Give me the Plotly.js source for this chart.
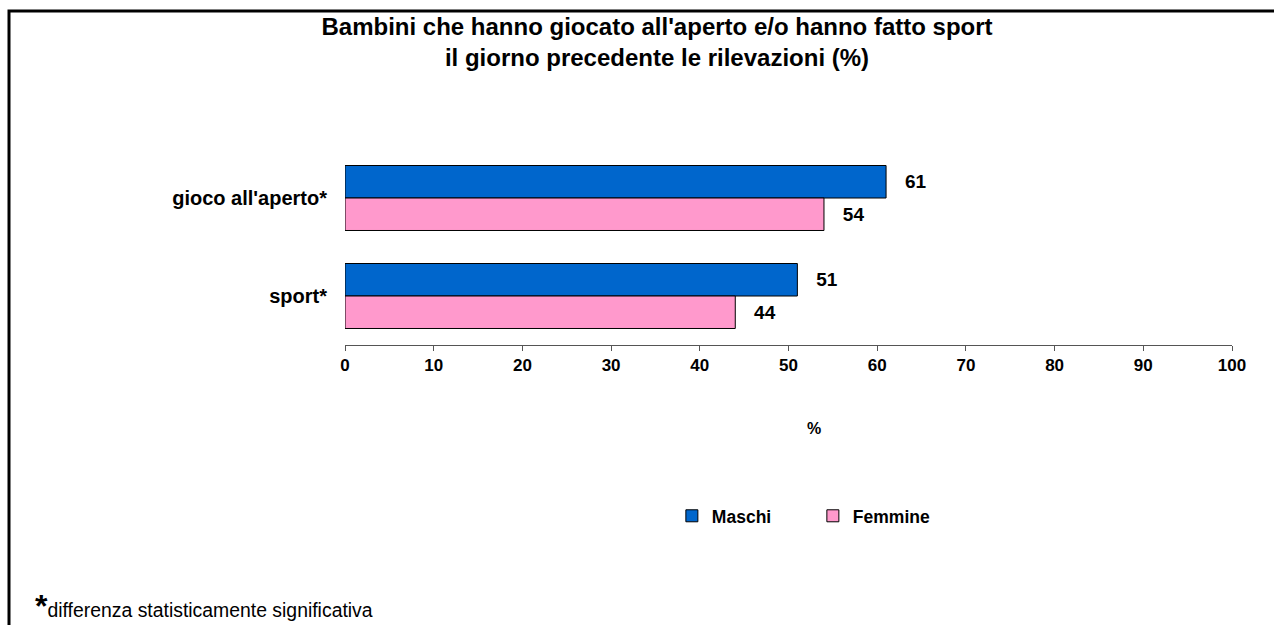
<!DOCTYPE html>
<html>
<head>
<meta charset="utf-8">
<script src="https://cdn.plot.ly/plotly-3.0.1.min.js"></script>
<style>html,body{margin:0;padding:0;background:#fff;}#chart{width:1274px;height:625px;}</style>
</head>
<body>
<div id="chart"></div>
<script>
const categories = ["gioco all'aperto*", "sport*"];
const maschi = [61, 51];
const femmine = [54, 44];
const seriesNames = ["Maschi", "Femmine"];
const xTicks = [0, 10, 20, 30, 40, 50, 60, 70, 80, 90, 100];

const FONT = "Liberation Sans, Arial, sans-serif";
const labelFont = {family: FONT, size: 19, color: '#000', weight: 'bold'};

const traces = [
  {type: 'bar', orientation: 'h', name: seriesNames[0], y: categories, x: maschi,
   marker: {color: '#0066CC', line: {color: '#000', width: 1}},
   texttemplate: '\u00a0\u00a0\u00a0%{x}', textposition: 'outside', cliponaxis: false,
   textfont: labelFont, hoverinfo: 'x+y'},
  {type: 'bar', orientation: 'h', name: seriesNames[1], y: categories, x: femmine,
   marker: {color: '#FF99CC', line: {color: '#000', width: 1}},
   texttemplate: '\u00a0\u00a0\u00a0%{x}', textposition: 'outside', cliponaxis: false,
   textfont: labelFont, hoverinfo: 'x+y'}
];

const layout = {
  width: 1274, height: 625,
  margin: {l: 345, r: 42, t: 149, b: 280, pad: 0},
  paper_bgcolor: '#fff', plot_bgcolor: '#fff',
  font: {family: FONT, color: '#000'},
  barmode: 'group', bargap: 0.337, bargroupgap: 0,
  title: {
    text: "<b>Bambini che hanno giocato all'aperto e/o hanno fatto sport<br>il giorno precedente le rilevazioni (%)</b>",
    font: {family: FONT, size: 24, color: '#000'},
    xref: 'container', yref: 'container',
    x: 0.5157, xanchor: 'center', y: 1 - 35 / 625, yanchor: 'middle'
  },
  xaxis: {
    range: [0, 100], tickvals: xTicks, ticktext: xTicks.map(String),
    showgrid: false, zeroline: false, showline: true, linecolor: '#555', linewidth: 1,
    ticks: 'outside', ticklen: 5, tickcolor: '#555', tickwidth: 1,
    tickfont: {family: FONT, size: 17, color: '#000', weight: 'bold'},
    fixedrange: true
  },
  yaxis: {
    type: 'category', categoryorder: 'array', categoryarray: categories,
    autorange: 'reversed', showgrid: false, zeroline: false, showline: false,
    ticks: '', ticklabelstandoff: 17,
    tickfont: {family: FONT, size: 20, color: '#000', weight: 'bold'},
    fixedrange: true
  },
  showlegend: true,
  legend: {
    orientation: 'h', x: 0.3685, xanchor: 'left', y: -0.872, yanchor: 'middle',
    font: {family: FONT, size: 17.5, color: '#000', weight: 'bold'},
    entrywidth: 96, entrywidthmode: 'pixels', itemwidth: 30, tracegroupgap: 0,
    traceorder: 'normal', bgcolor: 'rgba(0,0,0,0)'
  },
  annotations: [
    {text: '<b>%</b>', xref: 'paper', yref: 'paper', x: (814 - 345) / 887, y: (345 - 428) / 196,
     xanchor: 'center', yanchor: 'middle', showarrow: false,
     font: {family: FONT, size: 16, color: '#000'}},
    {text: '<span style="font-size:32px"><b>*</b></span>differenza statisticamente significativa',
     xref: 'paper', yref: 'paper', x: (33 - 345) / 887, y: (345 - 626) / 196,
     xanchor: 'left', yanchor: 'bottom', showarrow: false,
     font: {family: FONT, size: 19.4, color: '#000'}}
  ],
  shapes: [
    {type: 'rect', xref: 'paper', yref: 'paper',
     x0: (9 - 345) / 887, x1: (1300 - 345) / 887,
     y0: (345 - 11) / 196, y1: (345 - 660) / 196,
     line: {color: '#000', width: 3}, fillcolor: 'rgba(0,0,0,0)', layer: 'above'}
  ]
};

Plotly.newPlot('chart', traces, layout, {displayModeBar: false, staticPlot: true});
</script>
</body>
</html>
